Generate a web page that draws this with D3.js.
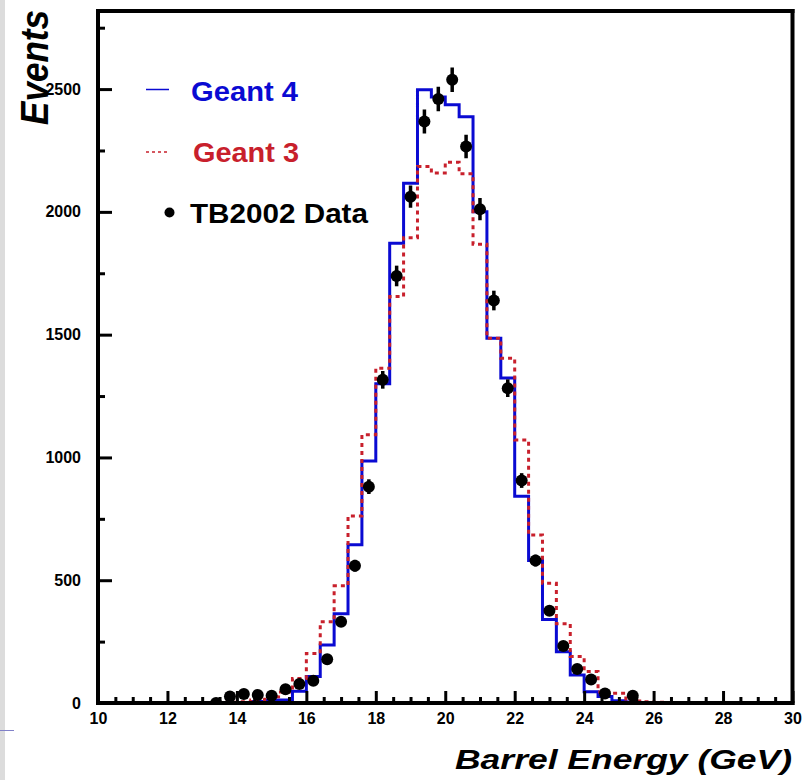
<!DOCTYPE html>
<html>
<head>
<meta charset="utf-8">
<script src="https://cdn.jsdelivr.net/npm/d3@7"></script>
<style>
  html, body { margin: 0; padding: 0; background: #fff; }
  svg { display: block; font-family: "Liberation Sans", Arial, Helvetica, sans-serif; }
</style>
</head>
<body>
<svg id="chart" width="804" height="780"></svg>
<script>
// Lower edges of the 0.4 GeV bins (GeV).
const binLow = [
    10.0, 10.4, 10.8, 11.2, 11.6, 12.0, 12.4, 12.8, 13.2, 13.6,
    14.0, 14.4, 14.8, 15.2, 15.6, 16.0, 16.4, 16.8, 17.2, 17.6,
    18.0, 18.4, 18.8, 19.2, 19.6, 20.0, 20.4, 20.8, 21.2, 21.6,
    22.0, 22.4, 22.8, 23.2, 23.6, 24.0, 24.4, 24.8, 25.2, 25.6,
    26.0, 26.4, 26.8, 27.2, 27.6, 28.0, 28.4, 28.8, 29.2, 29.6
];
const binHigh = 30.0;

// Geant 4 simulation (solid blue histogram).
const geant4 = [
    0, 0, 0, 0, 0, 0, 0, 0, 0, 0,
    2, 6, 10, 12, 48, 108, 236, 363, 644, 985,
    1300, 1872, 2117, 2497, 2468, 2436, 2387, 2000, 1485, 1323,
    842, 580, 340, 209, 114, 46, 26, 9, 4, 2,
    1, 1, 0, 0, 0, 0, 0, 0, 0, 0
];

// Geant 3 simulation (dashed red histogram).
const geant3 = [
    0, 0, 0, 0, 0, 0, 0, 0, 1, 3,
    5, 12, 25, 45, 100, 202, 331, 477, 762, 1092,
    1363, 1655, 1895, 2185, 2158, 2202, 2155, 1868, 1485, 1404,
    1071, 684, 488, 323, 189, 128, 45, 40, 8, 5,
    3, 2, 1, 1, 0, 0, 0, 0, 0, 0
];

// TB2002 test beam data points (bin centre, events, error).
const dataE = [13.4, 13.8, 14.2, 14.6, 15.0, 15.4, 15.8, 16.2, 16.6, 17.0,
    17.4, 17.8, 18.2, 18.6, 19.0, 19.4, 19.8, 20.2, 20.6, 21.0,
    21.4, 21.8, 22.2, 22.6, 23.0, 23.4, 23.8, 24.2, 24.6, 25.4];
const dataN = [0, 26, 37, 33, 30, 56, 77, 91, 178, 331,
    559, 881, 1316, 1739, 2062, 2368, 2460, 2538, 2266, 2011,
    1639, 1282, 906, 580, 376, 232, 138, 96, 39, 30];
const dataErr = [1, 5, 6, 6, 5, 7, 9, 10, 13, 18,
    24, 30, 36, 42, 45, 49, 50, 50, 48, 45,
    40, 36, 30, 24, 19, 15, 12, 10, 6, 5];

// Axis ticks.
const xMajor = [10, 12, 14, 16, 18, 20, 22, 24, 26, 28, 30];
const xMinor = [10.5, 11, 11.5, 12.5, 13, 13.5, 14.5, 15, 15.5, 16.5, 17, 17.5,
    18.5, 19, 19.5, 20.5, 21, 21.5, 22.5, 23, 23.5, 24.5, 25, 25.5,
    26.5, 27, 27.5, 28.5, 29, 29.5];
const yMajor = [0, 500, 1000, 1500, 2000, 2500];
const yMinor = [250, 750, 1250, 1750, 2250, 2750];

const blue = '#0a0ad2';
const red = '#c8202c';

const svg = d3.select('#chart');

// Grey strip at the left edge of the original scan.
svg.append('rect')
    .attr('x', 0).attr('y', 0)
    .attr('width', 5).attr('height', 780)
    .attr('fill', '#dcdcdc');
svg.append('line')
    .attr('x1', 0).attr('x2', 14)
    .attr('y1', 730.5).attr('y2', 730.5)
    .attr('stroke', '#8080c8').attr('stroke-width', 1);

// Scales.
let xScale = d3.scaleLinear()
    .domain([10, 30])
    .range([98, 792.5]);

let yScale = d3.scaleLinear()
    .domain([0, 2818])
    .range([703, 11]);

// Clip area for the marks.
svg.append('clipPath')
    .attr('id', 'plot-clip')
    .append('rect')
    .attr('x', 98).attr('y', 11)
    .attr('width', 694.5).attr('height', 692);

const gMarks = svg.append('g').attr('clip-path', 'url(#plot-clip)');

// Histogram step lines.
let step = d3.line()
    .x(d => xScale(d[0]))
    .y(d => yScale(d[1]))
    .curve(d3.curveStepAfter);

function histPoints(values) {
    let pts = binLow.map((e, i) => [e, values[i]]);
    pts.push([binHigh, values[values.length - 1]]);
    return pts;
}

gMarks.append('path')
    .attr('d', step(histPoints(geant4)))
    .attr('fill', 'none')
    .attr('stroke', blue)
    .attr('stroke-width', 3);

gMarks.append('path')
    .attr('d', step(histPoints(geant3)))
    .attr('fill', 'none')
    .attr('stroke', red)
    .attr('stroke-width', 3)
    .attr('stroke-dasharray', '4,4');

// Data points with error bars.
let points = dataE.map((e, i) => ({e: e, n: dataN[i], err: dataErr[i]}));

gMarks.selectAll('line.err')
    .data(points)
    .join('line')
    .attr('class', 'err')
    .attr('x1', d => xScale(d.e))
    .attr('x2', d => xScale(d.e))
    .attr('y1', d => yScale(d.n - d.err))
    .attr('y2', d => yScale(d.n + d.err))
    .attr('stroke', '#000')
    .attr('stroke-width', 3.5);

gMarks.selectAll('circle.pt')
    .data(points)
    .join('circle')
    .attr('class', 'pt')
    .attr('cx', d => xScale(d.e))
    .attr('cy', d => yScale(d.n))
    .attr('r', 6)
    .attr('fill', '#000');

// Axes (ticks pointing into the frame).
const tickFont = 'bold 16px "Liberation Sans", Arial, sans-serif';

let gX = svg.append('g')
    .attr('transform', 'translate(0,703)')
    .call(d3.axisBottom(xScale).tickValues(xMajor).tickSizeInner(-12).tickSizeOuter(0).tickPadding(10).tickFormat(d3.format('d')));
svg.append('g')
    .attr('transform', 'translate(0,703)')
    .call(d3.axisBottom(xScale).tickValues(xMinor).tickSizeInner(-6).tickSizeOuter(0).tickFormat(''));

let gY = svg.append('g')
    .attr('transform', 'translate(98,0)')
    .call(d3.axisLeft(yScale).tickValues(yMajor).tickSizeInner(-14).tickSizeOuter(0).tickPadding(17).tickFormat(d3.format('d')));
svg.append('g')
    .attr('transform', 'translate(98,0)')
    .call(d3.axisLeft(yScale).tickValues(yMinor).tickSizeInner(-7).tickSizeOuter(0).tickFormat(''));

svg.selectAll('.tick line')
    .style('stroke', '#000')
    .style('stroke-width', '3px');
svg.selectAll('.domain').remove();
svg.selectAll('.tick text')
    .style('font', tickFont)
    .attr('fill', '#000');
gX.selectAll('.tick text').attr('dy', '0.71em');

// Frame drawn as four thick sides.
const frame = [
    [98, 11, 792.5, 11],
    [792.5, 11, 792.5, 703],
    [792.5, 703, 98, 703],
    [98, 703, 98, 11]
];
svg.append('g').attr('id', 'g-frame')
    .selectAll('line')
    .data(frame)
    .join('line')
    .attr('x1', d => d[0]).attr('y1', d => d[1])
    .attr('x2', d => d[2]).attr('y2', d => d[3])
    .style('stroke', '#000')
    .style('stroke-width', '4px')
    .style('stroke-linecap', 'square');

// Legend.
let legend = svg.append('g').attr('id', 'g-legend');

legend.append('line')
    .attr('x1', 146).attr('x2', 169)
    .attr('y1', 89.5).attr('y2', 89.5)
    .attr('stroke', blue).attr('stroke-width', 1.5);
legend.append('text')
    .attr('x', 191).attr('y', 100.7)
    .attr('textLength', 107).attr('lengthAdjust', 'spacingAndGlyphs')
    .style('font', 'bold 27px "Liberation Sans", Arial, sans-serif')
    .attr('fill', blue)
    .text('Geant 4');

legend.append('line')
    .attr('x1', 146).attr('x2', 170)
    .attr('y1', 152).attr('y2', 152)
    .attr('stroke', red).attr('stroke-width', 1.5)
    .attr('stroke-dasharray', '3,3');
legend.append('text')
    .attr('x', 193).attr('y', 162.3)
    .attr('textLength', 106).attr('lengthAdjust', 'spacingAndGlyphs')
    .style('font', 'bold 27px "Liberation Sans", Arial, sans-serif')
    .attr('fill', red)
    .text('Geant 3');

legend.append('circle')
    .attr('cx', 169.5).attr('cy', 212.5)
    .attr('r', 5)
    .attr('fill', '#000');
legend.append('text')
    .attr('x', 190).attr('y', 222.7)
    .attr('textLength', 178).attr('lengthAdjust', 'spacingAndGlyphs')
    .style('font', 'bold 28px "Liberation Sans", Arial, sans-serif')
    .attr('fill', '#000')
    .text('TB2002 Data');

// Axis titles.
svg.append('text')
    .attr('transform', 'translate(48,125) rotate(-90)')
    .attr('textLength', 115).attr('lengthAdjust', 'spacingAndGlyphs')
    .style('font', 'italic bold 38px "Liberation Sans", Arial, sans-serif')
    .attr('fill', '#000')
    .text('Events');

svg.append('text')
    .attr('x', 455).attr('y', 769)
    .attr('textLength', 337).attr('lengthAdjust', 'spacingAndGlyphs')
    .style('font', 'italic bold 28px "Liberation Sans", Arial, sans-serif')
    .attr('fill', '#000')
    .text('Barrel Energy (GeV)');
</script>
</body>
</html>
